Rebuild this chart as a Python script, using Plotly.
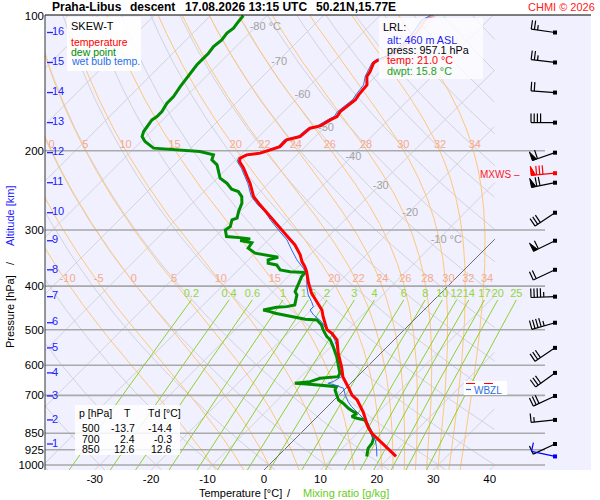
import numpy as np
import plotly.graph_objects as go

# ---- sounding (pressure hPa, temperature degC) ----
p_temp = [957.1, 870.8, 850, 823.0, 762.1, 716.7, 700, 670.5, 637.0, 608.3, 563.3, 527.0, 509.2, 500,
          467.7, 451.9, 433.1, 414.8, 394.1, 371.4, 362.0, 352.8, 340.9, 323.9, 309.3, 297.3, 282.4,
          273.0, 263.8, 252.8, 244.3, 236.1, 228.2, 218.6, 211.3, 207.7, 204.2, 202.4, 199.0, 195.7,
          189.1, 185.9, 178.1, 176.0, 170.7, 167.8, 163.6, 159.4, 154.0, 150.2, 145.8, 142.7, 136.7,
          133.3, 127.6, 125.5]
t_temp = [21.0, 14.4, 12.6, 10.8, 7.3, 4.1, 2.4, 0.2, -2.5, -4.3, -7.6, -10.1, -12.2, -13.7,
          -16.7, -18.1, -20.5, -22.9, -25.2, -27.6, -28.8, -30.2, -31.7, -34.4, -37.4, -40.0, -43.2,
          -45.6, -47.7, -50.3, -51.8, -53.3, -55.0, -57.1, -59.0, -59.5, -58.9, -56.8, -55.6, -54.5,
          -54.5, -52.7, -52.4, -51.0, -50.3, -49.7, -50.0, -49.7, -49.4, -49.7, -49.9, -50.0, -51.5,
          -51.8, -52.7, -52.4]
p_temp_top = [125.5, 122.3, 113.3, 107.7, 102.3, 100.0]
t_temp_top = [-52.4, -50.6, -50.3, -50.6, -51.2, -50.5]

p_dwpt = [957.1, 918.0, 894.8, 872.1, 850, 807.6, 794.0, 787.2, 780.7, 767.3, 761.0, 747.8, 728.9,
          716.7, 700, 680.9, 669.5, 663.7, 660.3, 657.9, 652.5, 641.3, 636.0, 625.0, 599.0, 574.1,
          545.4, 527.0, 518.1, 500, 488.0, 475.6, 473.9, 469.1, 463.6, 459.6, 455.8, 451.9, 445.7,
          444.3, 440.4, 433.1, 418.4, 411.4, 394.1, 381.0, 372.9, 371.4, 368.1, 358.8, 355.7, 349.7,
          344.9, 340.9, 337.9, 329.4, 320.5, 316.5, 314.0, 312.4, 310.4, 299.9, 294.9, 284.9, 282.4,
          273.0, 261.5, 252.8, 246.4, 243.4, 236.1, 230.1, 222.4, 214.9, 209.5, 204.2, 200.8, 199.0,
          197.3, 190.7, 185.9, 181.2, 176.6, 170.7, 167.8, 163.6, 156.7, 151.5, 143.9, 139.0, 134.3,
          128.7, 125.5, 121.3, 117.2, 113.3, 109.4, 106.7, 103.1, 100.0]
t_dwpt = [15.8, 14.6, 14.4, 13.8, 12.6, 9.9, 9.0, 7.3, 6.1, 6.4, 5.5, 4.0, 2.2,
          0.8, -0.3, -1.6, -1.9, -5.1, -7.7, -9.9, -7.5, -6.3, -3.4, -3.7, -5.4, -7.2,
          -9.6, -11.3, -12.5, -14.4, -15.5, -17.2, -19.4, -21.6, -24.6, -25.8, -27.0, -28.5, -26.6,
          -24.9, -23.8, -24.3, -25.2, -26.1, -27.0, -27.6, -27.7, -30.5, -32.6, -34.1, -35.9, -36.5,
          -35.2, -37.6, -40.0, -42.1, -42.4, -44.9, -43.4, -45.0, -48.0, -49.4, -49.1, -50.0, -49.4,
          -50.3, -51.2, -52.4, -53.9, -55.5, -57.4, -59.5, -61.0, -62.4, -64.2, -64.8, -67.8, -71.6,
          -76.6, -79.3, -80.7, -81.3, -81.6, -81.9, -81.6, -81.6, -82.2, -82.2, -82.8, -83.1, -83.4,
          -83.7, -83.7, -83.7, -84.0, -83.7, -84.0, -83.7, -84.0, -84.2]

p_wb = [957.1, 910.5, 879.8, 857.5, 807.6, 787.2, 774.0, 761.0, 741.7, 723.0, 698.6, 675.0, 663.7,
        657.9, 652.5, 636.0, 604.2, 564.2, 527.0, 513.7, 500.7, 479.8, 471.5, 463.6, 451.9, 444.3,
        433.1, 418.4, 401.0, 377.7, 364.9, 349.7, 332.3, 315.7, 299.9, 284.9, 273.0, 263.8, 252.8,
        244.3, 236.1, 228.2, 218.6, 211.3, 207.7, 204.2, 202.4, 199.0, 195.7, 189.1, 185.9, 178.1,
        176.0, 170.7, 167.8, 163.6, 159.4, 154.0, 150.2, 145.8, 142.7, 136.7, 133.3, 127.6, 125.5,
        122.3, 113.3, 107.7, 102.3, 100.0]
t_wb = [17.6, 15.8, 14.4, 12.9, 10.2, 8.4, 7.3, 6.1, 4.3, 2.8, 1.1, -0.4, -2.5,
        -4.0, -3.4, -2.8, -4.5, -7.5, -10.5, -11.9, -13.7, -16.1, -17.5, -18.7, -20.2, -20.2,
        -21.4, -23.2, -24.9, -27.0, -28.8, -31.4, -34.1, -36.7, -40.0, -43.2, -45.6, -48.1, -50.7,
        -52.2, -53.7, -55.4, -57.5, -59.4, -59.8, -59.2, -57.2, -56.0, -54.8, -54.9, -53.1, -52.8,
        -51.5, -50.8, -50.2, -50.5, -50.2, -49.9, -50.2, -50.4, -50.6, -51.8, -52.2, -53.0, -52.8,
        -51.1, -50.9, -51.2, -51.8, -51.0]

# altitude scale and winds (one barb per km)
alt_km = list(range(1, 17))
p_alt = [898.0, 793.8, 702.1, 623.9, 548.8, 482.5, 422.2, 367.9, 317.0, 274.6, 235.5, 201.9,
         173.1, 148.4, 127.2, 109.1]
wind_dir = [245, 264, 245, 234, 236, 254, 268, 245, 244, 236, 259, 251, 270, 274, 277, 278]
wind_kt = [10, 15, 30, 30, 30, 45, 45, 20, 60, 30, 70, 60, 40, 20, 25, 25]
mxws_p, mxws_dir, mxws_kt = 224.3, 265, 80
sfc_p, sfc_dir, sfc_kt = 957.1, 282, 10

# LRL info and small table
lrl_alt, lrl_p, lrl_t, lrl_td = 460, 957.1, 21.0, 15.8
tab_p = [500, 700, 850]
tab_t = [-13.7, 2.4, 12.6]
tab_td = [-14.4, -0.3, 12.6]

# axis ticks
p_ticks = [100, 200, 300, 400, 500, 600, 700, 850, 925, 1000]
p_lines = [200, 300, 400, 500, 600, 700, 850, 925, 1000]
t_ticks = [-30, -20, -10, 0, 10, 20, 30, 40]

# background diagram lines
iso_t = list(range(-130, 50, 10))
dry_theta = list(range(-40, 190, 10))
moist_thw = [-10, -5, 0, 5, 10, 15, 20, 22, 24, 26, 28, 30, 32, 34]
moist_lab_hi = [0, 5, 10, 15, 20, 22, 24, 26, 28, 30, 32, 34]
moist_lab_lo = [-10, -5, 0, 5, 10, 15, 20, 22, 24, 26, 28, 30, 32, 34]
mix_w = [0.2, 0.4, 0.6, 1, 1.5, 2, 3, 4, 6, 8, 10, 12, 14, 17, 20, 25]
mix_lab = ["0.2", "0.4", "0.6", "1", "1.5", "2", "3", "4", "6", "8", "10", "12", "14", "17", "20", "25"]
iso_lab_t = [-80, -70, -60, -50, -40, -30, -20, -10]
iso_lab_p = [106.0, 126.8, 150.2, 177.8, 206.3, 239.4, 274.9, 315.7]

# ---- geometry ----
W, H = 600, 500
ML, MR, MT, MB = 45, 9, 15, 30
PW, PH = W - ML - MR, H - MT - MB
PX_C = 5.643
PX_DEC = 449.5
X0 = 264
X_LEFT = (ML - X0) / PX_C
X_RIGHT = (W - MR - X0) / PX_C
Y_BOT = 3 + 5 / PX_DEC
Y_TOP = 2 - 0.5 / PX_DEC
P0 = 10 ** Y_BOT
SKEW = PX_DEC / PX_C
X_CLIP = (495 - X0) / PX_C
X_GRID_END = (545 - X0) / PX_C
X_BARB = (555 - X0) / PX_C
LAB_SHIFT = 3 / PX_C
FONT = "Liberation Sans, Arial, sans-serif"


def skx(t, p):
    return np.asarray(t, float) + SKEW * np.log10(P0 / np.asarray(p, float))


def clip(x):
    x = np.array(x, float)
    x[x > X_CLIP] = np.nan
    return x


def join(parts):
    xs, ys = [], []
    for x, y in parts:
        xs.append(np.asarray(x, float)); xs.append([np.nan])
        ys.append(np.asarray(y, float)); ys.append([np.nan])
    return np.concatenate(xs), np.concatenate(ys)


pp = np.logspace(Y_BOT, 2, 700)

iso_x, iso_y = join([(clip(skx(np.full_like(pp, t), pp)), pp) for t in iso_t])
dry_x, dry_y = join([(clip(skx((th + 273.15) * (pp / 1000) ** 0.2857 - 273.15, pp)), pp)
                     for th in dry_theta])

RD, CP, LV, EPS = 287.04, 1005.7, 2.501e6, 0.622


def dTdlnp(tk, p):
    es = 6.112 * np.exp(17.67 * (tk - 273.15) / (tk - 29.65))
    rs = EPS * es / (p - es)
    return (RD * tk + LV * rs) / (CP + LV * LV * rs * EPS / (RD * tk * tk))


def integrate(thw, pg):
    tk = np.array(thw, float) + 273.15
    out = [tk.copy()]
    for i in range(1, len(pg)):
        a, b = np.log(pg[i - 1]), np.log(pg[i])
        h = b - a
        k1 = dTdlnp(tk, np.exp(a))
        k2 = dTdlnp(tk + h / 2 * k1, np.exp(a + h / 2))
        k3 = dTdlnp(tk + h / 2 * k2, np.exp(a + h / 2))
        k4 = dTdlnp(tk + h * k3, np.exp(b))
        tk = tk + h / 6 * (k1 + 2 * k2 + 2 * k3 + k4)
        out.append(tk.copy())
    return np.array(out) - 273.15


p_up = np.logspace(3, 2, 500)
p_dn = np.logspace(3, Y_BOT, 10)
t_up = integrate(moist_thw, p_up)
t_dn = integrate(moist_thw, p_dn)
p_moist = np.concatenate([p_dn[::-1], p_up[1:]])
t_moist = np.vstack([t_dn[::-1], t_up[1:]])
moist_x, moist_y = join([(clip(skx(t_moist[:, i], p_moist)), p_moist) for i in range(len(moist_thw))])


def moist_at(thw, p):
    i = moist_thw.index(thw)
    return float(np.interp(np.log(p), np.log(p_moist[::-1]), t_moist[::-1, i]))


P_MIX_TOP = 429.3
pm = np.logspace(Y_BOT, np.log10(P_MIX_TOP), 60)


def td_from_w(w, p):
    e = w * np.asarray(p) / (622 + w)
    ln = np.log(e / 6.112)
    return 243.5 * ln / (17.67 - ln)


mix_x, mix_y = join([(skx(td_from_w(w, pm), pm), pm) for w in mix_w])

fig = go.Figure()
thin = dict(hoverinfo="skip", showlegend=False, mode="lines")
fig.add_trace(go.Scatter(x=iso_x, y=iso_y, line=dict(color="#d3d3da", width=1), **thin))
fig.add_trace(go.Scatter(x=dry_x, y=dry_y, line=dict(color="#d3d3da", width=1), **thin))
fig.add_trace(go.Scatter(x=moist_x, y=moist_y, line=dict(color="#ffc77a", width=1), **thin))
fig.add_trace(go.Scatter(x=mix_x, y=mix_y, line=dict(color="#8fd12a", width=1), **thin))
z = clip(skx(np.zeros_like(pp), pp))
fig.add_trace(go.Scatter(x=z, y=pp, line=dict(color="#6e6e6e", width=1), **thin))

hx, hy = join([([X_LEFT, X_GRID_END], [p, p]) for p in p_lines])
fig.add_trace(go.Scatter(x=hx, y=hy, line=dict(color="#a9a9a9", width=1.6), **thin))

# labels of the background lines
txt = dict(mode="text", hoverinfo="skip", showlegend=False, cliponaxis=False)
P_HI, P_LO = 194.0, 385.5
fig.add_trace(go.Scatter(x=[skx(moist_at(v, P_HI), P_HI) + LAB_SHIFT for v in moist_lab_hi],
                         y=[P_HI] * len(moist_lab_hi), text=[str(v) for v in moist_lab_hi],
                         textfont=dict(family=FONT, size=11, color="#f6a98c"), **txt))
fig.add_trace(go.Scatter(x=[skx(moist_at(v, P_LO), P_LO) + LAB_SHIFT for v in moist_lab_lo],
                         y=[P_LO] * len(moist_lab_lo), text=[str(v) for v in moist_lab_lo],
                         textfont=dict(family=FONT, size=11, color="#f6a98c"), **txt))
fig.add_trace(go.Scatter(x=skx(td_from_w(np.array(mix_w), P_MIX_TOP), P_MIX_TOP), y=[416.3] * len(mix_w),
                         text=mix_lab, textfont=dict(family=FONT, size=11, color="#93d63a"), **txt))
iso_lab_x = skx(iso_lab_t, iso_lab_p)
mid = slice(1, -1)
fig.add_trace(go.Scatter(x=iso_lab_x[mid] + 2 / PX_C, y=iso_lab_p[mid], text=[str(v) for v in iso_lab_t[mid]],
                         textfont=dict(family=FONT, size=11, color="#a3a3a3"), **txt))
fig.add_trace(go.Scatter(x=[iso_lab_x[0] - 6 / PX_C, iso_lab_x[-1] - 7 / PX_C], y=[iso_lab_p[0], iso_lab_p[-1]],
                         text=["%d °C" % iso_lab_t[0], "%d °C" % iso_lab_t[-1]], textposition="middle right",
                         textfont=dict(family=FONT, size=11, color="#a3a3a3"), **txt))

# profiles
fig.add_trace(go.Scatter(x=skx(t_dwpt, p_dwpt), y=p_dwpt, line=dict(color="#008c00", width=3), **thin))
fig.add_trace(go.Scatter(x=skx(t_temp_top, p_temp_top), y=p_temp_top, line=dict(color="#f4a3a8", width=2.5), **thin))
fig.add_trace(go.Scatter(x=skx(t_wb, p_wb), y=p_wb, line=dict(color="#2a6ee8", width=1), **thin))
fig.add_trace(go.Scatter(x=skx(t_temp, p_temp), y=p_temp, line=dict(color="#ff0000", width=3), **thin))


# wind barbs
def to_data(p, pts):
    return [X_BARB + dx / PX_C for dx, dy in pts], [p * 10 ** (dy / PX_DEC) for dx, dy in pts]


def barb(p, wdir, kt, color):
    a = np.radians(wdir)
    u = np.array([np.sin(a), -np.cos(a)])
    f = np.array([-u[1], u[0]])
    L = 24.0
    segs = [[(0.0, 0.0), tuple(u * L)]]
    flags = []
    n50 = kt // 50
    n10 = (kt - 50 * n50) // 10
    n5 = 1 if (kt - 50 * n50 - 10 * n10) >= 5 else 0
    s = L
    for _ in range(n50):
        b1, b2 = u * s, u * (s - 4.5)
        flags.append([tuple(b1), tuple(b1 + f * 9), tuple(b2), tuple(b1)])
        s -= 5.5
    for _ in range(n10):
        b = u * s
        segs.append([tuple(b), tuple(b + f * 9)])
        s -= 3.2
    if n5:
        b = u * s
        segs.append([tuple(b), tuple(b + f * 5)])
    bx, by = [], []
    for sg in segs:
        x, y = to_data(p, sg)
        bx += x + [None]; by += y + [None]
    fig.add_trace(go.Scatter(x=bx, y=by, line=dict(color=color, width=1.2), **thin))
    for fl in flags:
        x, y = to_data(p, fl)
        fig.add_trace(go.Scatter(x=x, y=y, fill="toself", fillcolor=color, line=dict(color=color, width=1), **thin))
    fig.add_trace(go.Scatter(x=[X_BARB], y=[p], mode="markers", marker=dict(symbol="square", size=4, color=color),
                             hoverinfo="skip", showlegend=False))


for p, d, s in zip(p_alt, wind_dir, wind_kt):
    barb(p, d, s, "black")
barb(mxws_p, mxws_dir, mxws_kt, "#ff0000")
barb(sfc_p, sfc_dir, sfc_kt, "#0000ff")

# altitude scale
kx, ky = join([([(47 - X0) / PX_C, (53 - X0) / PX_C], [p, p]) for p in p_alt])
fig.add_trace(go.Scatter(x=kx, y=ky, line=dict(color="#2222ff", width=1.3), **thin))
fig.add_trace(go.Scatter(x=[(52 - X0) / PX_C] * len(alt_km), y=p_alt, text=[str(k) for k in alt_km],
                         textposition="middle right", textfont=dict(family=FONT, size=11, color="#2222ff"), **txt))


def px(x):
    return (x - ML) / PW


def py(y):
    return (H - MB - y) / PH


def ann(text, x, y, color="black", size=11, xanchor="left", angle=0):
    return dict(text=text, x=px(x), y=py(y), xref="paper", yref="paper", xanchor=xanchor, yanchor="middle",
                showarrow=False, textangle=angle, font=dict(family=FONT, size=size, color=color))


def box(x0, y0, x1, y1, alpha=0.82):
    return dict(type="rect", xref="paper", yref="paper", x0=px(x0), x1=px(x1), y0=py(y1), y1=py(y0),
                fillcolor="rgba(255,255,255,%.2f)" % alpha, line=dict(width=0))


shapes = [
    dict(type="line", xref="paper", yref="paper", x0=0, x1=1, y0=1, y1=1, line=dict(color="black", width=1.2)),
    dict(type="line", xref="paper", yref="paper", x0=0, x1=0, y0=0, y1=1, line=dict(color="#333333", width=1)),
    box(67, 17, 141, 71, 0.9),
    box(379, 18, 483, 79, 0.75),
    box(75, 405, 180, 455, 0.85),
    box(464, 381, 507, 395, 1.0),
    dict(type="line", xref="paper", yref="paper", x0=px(466), x1=px(497), y0=py(383.5), y1=py(383.5),
         line=dict(color="#ff0000", width=1.2, dash="dash")),
    dict(type="line", xref="paper", yref="paper", x0=px(466), x1=px(471), y0=py(389.5), y1=py(389.5),
         line=dict(color="#2a6ee8", width=1.2)),
]

B = "<b>%s</b>"
annotations = [
    ann(B % "Praha-Libus", 50, 7, size=12),
    ann(B % "descent", 128, 7, size=12),
    ann(B % "17.08.2026 13:15 UTC", 183, 7, size=12),
    ann(B % "50.21N,15.77E", 314, 7, size=12),
    ann("CHMI © 2026", 597, 7, color="#ff2020", size=11, xanchor="right"),
    ann("SKEW-T", 69, 26, size=11),
    ann("temperature", 69, 41.5, color="#ff0000", size=10.5),
    ann("dew point", 69, 51.5, color="#008c00", size=10.5),
    ann("wet bulb temp.", 69, 61.5, color="#2a6ee8", size=10.5),
    ann("LRL:", 381, 27, size=11),
    ann("alt: %d m ASL" % lrl_alt, 385, 40, color="#2222ee", size=10.8),
    ann("press: %.1f hPa" % lrl_p, 385, 50.5, size=10.8),
    ann("temp: %.1f °C" % lrl_t, 385, 60.5, color="#ff0000", size=10.8),
    ann("dwpt: %.1f °C" % lrl_td, 385, 70.5, color="#22a022", size=10.8),
    ann("p [hPa]", 77, 413, size=10.5),
    ann("T", 127.5, 413, size=10.5, xanchor="center"),
    ann("Td [°C]", 146, 413, size=10.5),
    ann("MXWS –", 522, 174, color="#ff2020", size=10, xanchor="right"),
    ann("WBZL", 472, 390.5, color="#2a6ee8", size=10),
    ann("Temperature [°C]", 197, 493, size=11),
    ann("/", 289, 493, size=11, xanchor="center"),
    ann("Mixing ratio [g/kg]", 301, 493, color="#66cc22", size=11),
    ann("Pressure [hPa]", 10, 312, size=11, xanchor="center", angle=-90),
    ann("/", 10, 263, size=11, xanchor="center", angle=-90),
    ann("Altitude [km]", 10, 216, color="#2222ff", size=11, xanchor="center", angle=-90),
]
for i, (p, t, td) in enumerate(zip(tab_p, tab_t, tab_td)):
    yy = 428 + i * 10.7
    annotations.append(ann(str(p), 102, yy, size=10.5, xanchor="right"))
    annotations.append(ann("%.1f" % t, 137, yy, size=10.5, xanchor="right"))
    annotations.append(ann("%.1f" % td, 174, yy, size=10.5, xanchor="right"))

fig.update_layout(
    width=W, height=H,
    margin=dict(l=ML, r=MR, t=MT, b=MB, pad=0),
    paper_bgcolor="white", plot_bgcolor="#f0f0fe",
    showlegend=False,
    xaxis=dict(range=[X_LEFT, X_RIGHT], tickvals=t_ticks, ticktext=[str(v) for v in t_ticks],
               showgrid=False, zeroline=False, ticks="", tickfont=dict(family=FONT, size=11.5, color="black"),
               fixedrange=True),
    yaxis=dict(type="log", range=[Y_BOT, Y_TOP], tickvals=p_ticks, ticktext=[str(v) for v in p_ticks],
               showgrid=False, zeroline=False, ticks="", tickfont=dict(family=FONT, size=11.5, color="black"),
               fixedrange=True),
    shapes=shapes, annotations=annotations,
)

fig.write_html("out.html", config={"displayModeBar": False},
               post_script="document.body.style.margin='0px';")
